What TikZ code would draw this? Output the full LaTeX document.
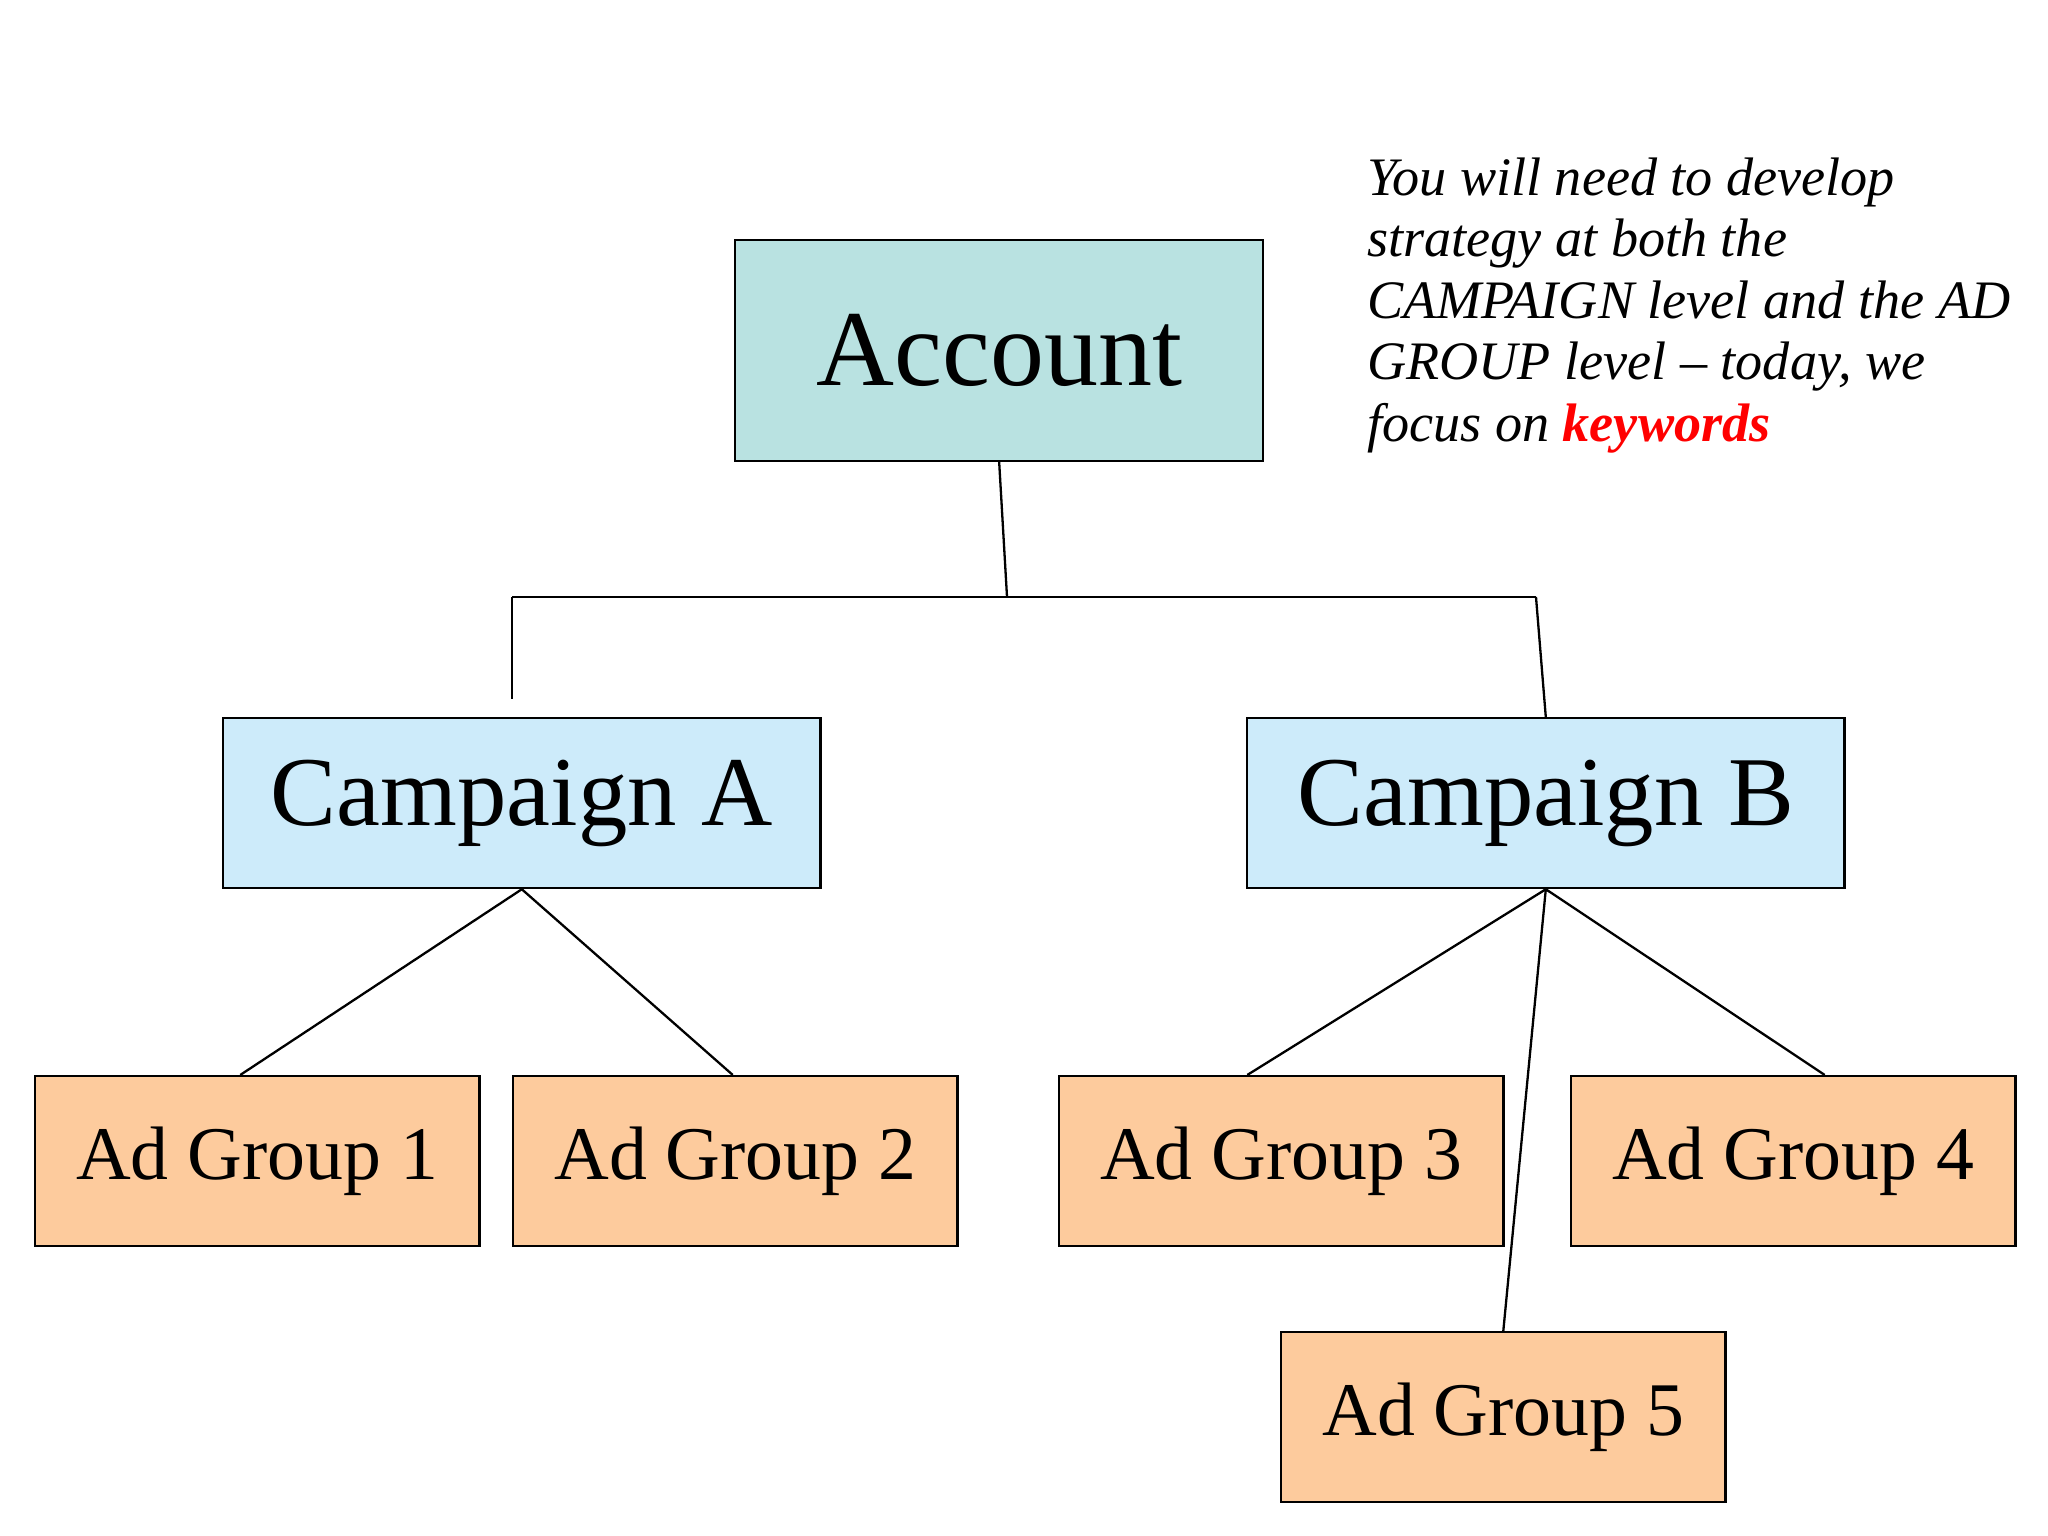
\documentclass[tikz,border=0pt]{standalone}
\usepackage{fontspec}
\setmainfont{Liberation Serif}
\begin{document}
\begin{tikzpicture}[x=0.01cm,y=-0.01cm,
 box/.style={draw=black,line width=0.5pt,inner sep=0pt,anchor=north west},
 acc/.style={box,fill=acccol,minimum width=404\pgflinewidth*0+4.04cm,minimum height=1.69cm,font=\fontsize{23.5}{26}\selectfont},
 camp/.style={box,fill=campcol,minimum width=4.57cm,minimum height=1.30cm,font=\fontsize{21.5}{24}\selectfont},
 ag/.style={box,fill=agcol,minimum width=3.40cm,minimum height=1.30cm,font=\fontsize{16.5}{19}\selectfont},
 ln/.style={line width=0.5pt}]
\definecolor{acccol}{HTML}{B9E2E1}
\definecolor{campcol}{HTML}{CDEBFA}
\definecolor{agcol}{HTML}{FDCB9D}
\useasboundingbox (0,0) rectangle (1568,1176);
\node[acc] (acct) at (562,183) {Account};
\node[camp] (ca) at (170,549) {Campaign A};
\node[camp] (cb) at (954,549) {Campaign B};
\node[ag] (g1) at (26,823) {Ad Group 1};
\node[ag] (g2) at (392,823) {Ad Group 2};
\node[ag] (g3) at (810,823) {Ad Group 3};
\node[ag] (g4) at (1202,823) {Ad Group 4};
\node[ag] (g5) at (980,1019) {Ad Group 5};
\coordinate (j) at (771,457);
\coordinate (jl) at (392,457);
\coordinate (jr) at (1176,457);
\coordinate (al) at (392,535);
\draw[ln] (acct.south) -- (j);
\draw[ln] (jl) -- (jr);
\draw[ln] (jl) -- (al);
\draw[ln] (jr) -- (cb.north);
\draw[ln] (ca.south) -- (184,823);
\draw[ln] (ca.south) -- (561,823);
\draw[ln] (cb.south) -- (955,823);
\draw[ln] (cb.south) -- (1397,823);
\draw[ln] (cb.south) -- (g5.north);
\node[anchor=north west,align=left,inner sep=0pt,font=\fontsize{11.8}{13.4}\selectfont\itshape] (txt) at (1046,120)
{You will need to develop\\strategy at both the\\CAMPAIGN level and the AD\\GROUP level -- today, we\\focus on {\color{red}\bfseries keywords}};
\end{tikzpicture}
\end{document}
